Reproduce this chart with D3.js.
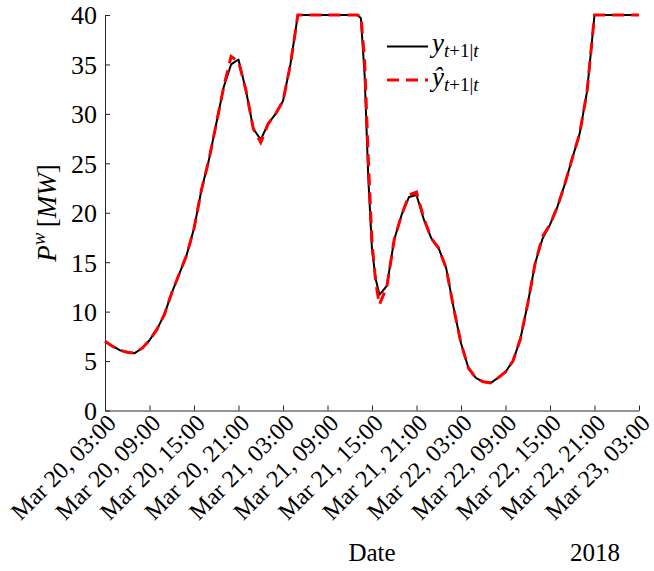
<!DOCTYPE html>
<html>
<head>
<meta charset="utf-8">
<script src="https://cdn.jsdelivr.net/npm/d3@7"></script>
<style>
  body { margin: 0; background: #fff; }
  svg { display: block; }
  svg text { font-family: "Liberation Serif", "DejaVu Serif", serif !important; fill: #000; }
</style>
</head>
<body>
<svg id="chart" width="654" height="571"></svg>
<script>
// ---- data (hours since Mar 20, 03:00, 2018) ----
const hours = [0,1,2,3,4,5,6,7,8,9,10,11,12,13,14,15,16,17,18,19,20,21,22,23,24,25,26,27,28,29,30,31,32,33,34,
  34.5,35,35.5,36,36.5,
  37,38,39,40,41,42,43,44,45,46,47,48,49,50,51,52,53,54,55,56,57,58,59,60,61,62,63,64,65,66,67,68,69,70,71,72];
const actual = [7.0,6.5,6.1,5.9,5.8,6.3,7.1,8.2,9.7,11.9,13.8,15.7,18.4,22.3,25.3,29.0,32.7,35.0,35.5,32.4,28.5,27.4,29.0,30.0,31.3,35.0,40,40,40,40,40,40,40,40,40,
  39.7,34.0,23.5,16.3,13.3,
  11.7,12.6,17.3,19.8,21.6,21.8,19.3,17.4,16.4,14.4,10.4,6.8,4.3,3.3,2.9,2.8,3.3,3.9,5.0,7.2,10.8,14.9,17.4,18.8,20.6,22.9,25.5,28.0,32.3,40,40,40,40,40,40,40];
const forecast = [7.0,6.5,6.1,5.9,5.8,6.3,7.1,8.2,9.7,11.9,13.8,15.7,18.4,22.3,25.3,29.0,32.7,35.8,35.3,32.4,28.5,27.1,29.0,30.0,31.3,35.0,40,40,40,40,40,40,40,40,40,
  39.9,35.5,25.5,17.0,13.0,
  10.7,12.5,17.3,19.8,21.8,22.1,19.4,17.4,16.4,14.4,10.4,6.8,4.3,3.3,2.9,2.8,3.3,3.9,5.0,7.2,10.8,14.9,17.6,18.8,20.6,22.9,25.5,28.0,32.3,40,40,40,40,40,40,40];
const xTickHours = [0,6,12,18,24,30,36,42,48,54,60,66,72];
const xTickLabels = ["Mar 20, 03:00","Mar 20, 09:00","Mar 20, 15:00","Mar 20, 21:00","Mar 21, 03:00","Mar 21, 09:00",
  "Mar 21, 15:00","Mar 21, 21:00","Mar 22, 03:00","Mar 22, 09:00","Mar 22, 15:00","Mar 22, 21:00","Mar 23, 03:00"];
const yTicks = [0,5,10,15,20,25,30,35,40];
const yearLabel = "2018";

// ---- layout ----
const svg = d3.select("#chart");
const pLeft = 105, pRight = 639, pTop = 15, pBottom = 410.5;
const x = d3.scaleLinear().domain([0, 72]).range([pLeft, pRight]);
const y = d3.scaleLinear().domain([0, 40]).range([pBottom, pTop]);
const axisColor = "#262626";
const serif = '"Liberation Serif", "DejaVu Serif", serif';

// axes
const gx = svg.append("g").attr("transform", `translate(0,${pBottom})`)
  .call(d3.axisBottom(x).tickValues(xTickHours).tickSizeInner(-5).tickSizeOuter(0)
    .tickFormat((d, i) => xTickLabels[i]));
gx.attr("font-family", serif);
gx.select(".domain").attr("stroke", axisColor);
gx.selectAll(".tick line").attr("stroke", axisColor);
gx.selectAll(".tick text")
  .style("font-family", serif)
  .attr("font-size", 24)
  .attr("text-anchor", "end")
  .attr("y", 0).attr("dy", 0)
  .attr("transform", "translate(12,14) rotate(-45)")
  .attr("fill", "#000");

const gy = svg.append("g").attr("transform", `translate(${pLeft},0)`)
  .call(d3.axisLeft(y).tickValues(yTicks).tickSizeInner(-5).tickSizeOuter(0).tickPadding(8));
gy.attr("font-family", serif);
gy.select(".domain").attr("stroke", axisColor);
gy.selectAll(".tick line").attr("stroke", axisColor);
gy.selectAll(".tick text").style("font-family", serif).attr("font-size", 26).attr("fill", "#000").attr("dy", "0.34em");

// lines
const pts = (vals) => hours.map((h, i) => [h, vals[i]]);
const line = d3.line().x(d => x(d[0])).y(d => y(d[1]));
svg.append("path").datum(pts(actual))
  .attr("d", line).attr("fill", "none").attr("stroke", "#000").attr("stroke-width", 2)
  .attr("stroke-linejoin", "round");
svg.append("path").datum(pts(forecast))
  .attr("d", line).attr("fill", "none").attr("stroke", "#ff0000").attr("stroke-width", 3)
  .attr("stroke-dasharray", "12,7");

// legend
const lg = svg.append("g");
lg.append("line").attr("x1", 387).attr("x2", 428).attr("y1", 46.5).attr("y2", 46.5)
  .attr("stroke", "#000").attr("stroke-width", 2);
lg.append("line").attr("x1", 387).attr("x2", 428).attr("y1", 80).attr("y2", 80)
  .attr("stroke", "#ff0000").attr("stroke-width", 3).attr("stroke-dasharray", "12,7");
function legendText(yb, sym) {
  const t = lg.append("text").attr("x", 432).attr("y", yb).attr("font-size", 27).style("font-family", serif);
  t.append("tspan").attr("font-style", "italic").text(sym);
  t.append("tspan").attr("font-size", 19).attr("dy", 5).attr("font-style", "italic").text("t");
  t.append("tspan").attr("font-size", 19).text("+1|");
  t.append("tspan").attr("font-size", 19).attr("font-style", "italic").text("t");
}
legendText(52, "y");
legendText(86, "\u0177");

// y label
const yl = svg.append("text").attr("transform", "translate(56,213) rotate(-90)")
  .attr("text-anchor", "middle").attr("font-size", 27).style("font-family", serif);
yl.append("tspan").attr("font-style", "italic").text("P");
yl.append("tspan").attr("font-style", "italic").attr("font-size", 19).attr("dy", -11).text("w");
yl.append("tspan").attr("dy", 11).text("\u2009[");
yl.append("tspan").attr("font-style", "italic").text("MW");
yl.append("tspan").text("]");

// x label and year
svg.append("text").attr("x", 372).attr("y", 561).attr("text-anchor", "middle").attr("font-size", 25)
  .style("font-family", serif).text("Date");
svg.append("text").attr("x", 595).attr("y", 561).attr("text-anchor", "middle").attr("font-size", 25)
  .style("font-family", serif).text(yearLabel);
</script>
</body>
</html>
